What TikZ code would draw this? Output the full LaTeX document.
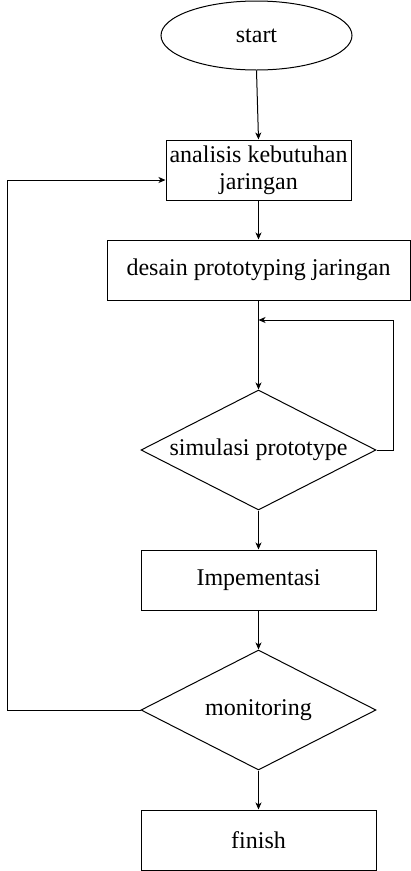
\documentclass[tikz,border=0pt]{standalone}
\usepackage{fontspec}
\setmainfont{Liberation Serif}
\usetikzlibrary{shapes.geometric,arrows.meta}
\begin{document}
\begin{tikzpicture}[x=1pt,y=-1pt,
  every node/.style={font=\fontsize{24}{27}\selectfont, inner sep=0pt, draw, line width=1pt},
  procbox/.style={rectangle, minimum width=235pt, minimum height=60pt, align=center},
  decis/.style={diamond, aspect=1.958, minimum width=235pt, minimum height=120pt},
  conn/.style={line width=1pt, -{Stealth[length=7pt,width=6pt,inset=2pt]}},
  plain/.style={line width=1pt}]
\useasboundingbox (0,0) rectangle (411,871);
\node[ellipse, minimum width=191pt, minimum height=69pt] (st) at (256.5,35.5) {start};
\node[procbox, minimum width=185pt] (b1) at (258.5,170) {analisis kebutuhan\\jaringan};
\node[procbox, minimum width=303pt] (b2) at (258.5,270) {desain prototyping jaringan};
\node[decis] (d1) at (258.5,450) {simulasi prototype};
\node[procbox] (b3) at (258.5,580) {Impementasi};
\node[decis] (d2) at (258.5,710) {monitoring};
\node[procbox] (b4) at (258.5,840) {finish};
\coordinate (lp) at (258.5,320);
\coordinate (fb) at (7,710);
\draw[conn] (st.south) -- (b1.north);
\draw[conn] (b1.south) -- (b2.north);
\draw[conn] (b2.south) -- (d1.north);
\draw[conn] (d1.east) -- ++(17,0) |- (lp);
\draw[conn] (d1.south) -- (b3.north);
\draw[conn] (b3.south) -- (d2.north);
\draw[conn] (d2.south) -- (b4.north);
\draw[conn] (d2.west) -- (fb) |- ([yshift=-10pt]b1.west);
\end{tikzpicture}
\end{document}
